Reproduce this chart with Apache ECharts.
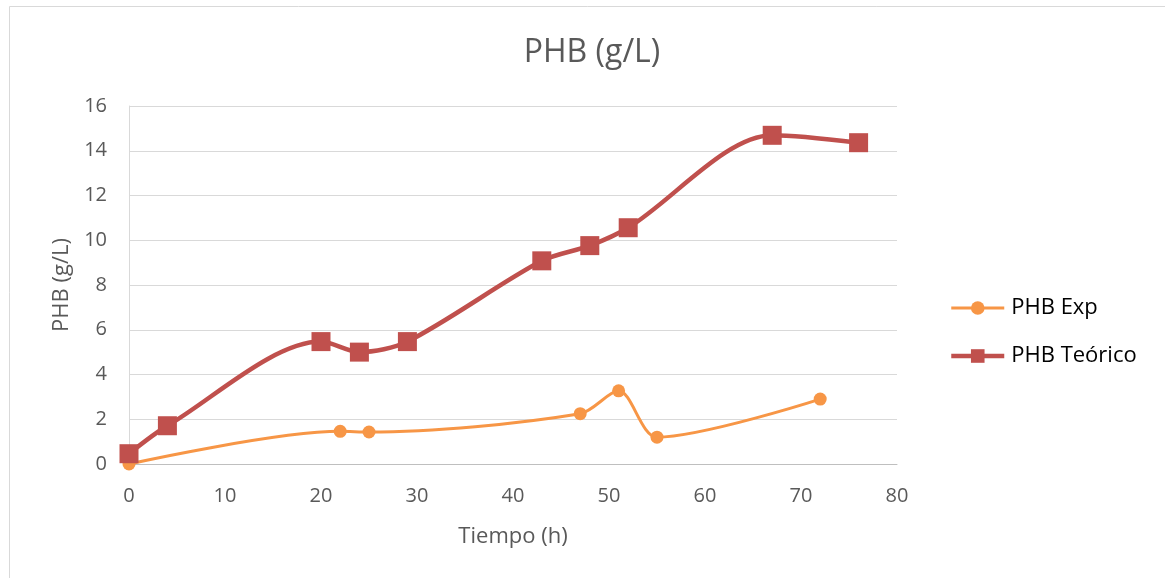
<!DOCTYPE html>
<html>
<head>
<meta charset="utf-8">
<script src="https://cdn.jsdelivr.net/npm/echarts@6/dist/echarts.min.js"></script>
<style>html,body{margin:0;padding:0;background:#fff}#chart{width:1165px;height:578px}</style>
</head>
<body>
<div id="chart"></div>
<script>
const expTime = [0, 22, 25, 47, 51, 55, 72];
const expPHB  = [0, 1.46, 1.43, 2.25, 3.27, 1.2, 2.9];
const teoTime = [0, 4, 20, 24, 29, 43, 48, 52, 67, 76];
const teoPHB  = [0.46, 1.71, 5.47, 5.0, 5.47, 9.08, 9.76, 10.56, 14.69, 14.36];
const xTicks = [0, 10, 20, 30, 40, 50, 60, 70, 80];
const yTicks = [0, 2, 4, 6, 8, 10, 12, 14, 16];

const FONT = '"Open Sans", Lato, sans-serif';
const chart = echarts.init(document.getElementById('chart'));
chart.setOption({
  backgroundColor: '#fff',
  animation: false,
  textStyle: { fontFamily: FONT },
  graphic: [{
    type: 'rect', silent: true, z: -1,
    shape: { x: 9.5, y: 6.5, width: 1170, height: 590 },
    style: { fill: 'none', stroke: '#D9D9D9', lineWidth: 1 }
  }],
  title: {
    text: 'PHB (g/L)', left: 587, top: 32, textAlign: 'center',
    textStyle: { fontFamily: FONT, fontSize: 32, fontWeight: 'normal', color: '#595959' }
  },
  legend: {
    orient: 'vertical', left: 944, top: 292, itemGap: 26,
    itemWidth: 53, itemHeight: 17,
    lineStyle: { width: 'inherit' },
    textStyle: { fontFamily: FONT, fontSize: 22, color: '#000', padding: [0, 0, 0, 2] },
    data: ['PHB Exp', 'PHB Teórico']
  },
  grid: { left: 129, right: 268, top: 106, bottom: 114, containLabel: false },
  xAxis: {
    type: 'value', min: xTicks[0], max: xTicks[xTicks.length - 1], interval: 10,
    name: 'Tiempo (h)', nameLocation: 'middle', nameGap: 62,
    nameTextStyle: { fontFamily: FONT, fontSize: 22, color: '#595959' },
    axisLine: { lineStyle: { color: '#BFBFBF', width: 1 } },
    axisTick: { show: false },
    axisLabel: { fontFamily: FONT, fontSize: 20, color: '#595959', margin: 22 },
    splitLine: { show: false }
  },
  yAxis: {
    type: 'value', min: yTicks[0], max: yTicks[yTicks.length - 1], interval: 2,
    name: 'PHB (g/L)', nameLocation: 'middle', nameGap: 56, nameRotate: 90,
    nameTextStyle: { fontFamily: FONT, fontSize: 22, color: '#595959' },
    axisLine: { show: true, lineStyle: { color: '#D9D9D9', width: 1 } },
    axisTick: { show: false },
    axisLabel: { fontFamily: FONT, fontSize: 20, color: '#595959', margin: 22 },
    splitLine: { show: true, lineStyle: { color: '#D9D9D9', width: 1 } }
  },
  series: [
    {
      name: 'PHB Exp', type: 'line',
      data: expTime.map((t, i) => [t, expPHB[i]]),
      smooth: 0.3,
      symbol: 'circle', symbolSize: 13,
      itemStyle: { color: '#F79646' },
      lineStyle: { color: '#F79646', width: 3 }, z: 2
    },
    {
      name: 'PHB Teórico', type: 'line',
      data: teoTime.map((t, i) => [t, teoPHB[i]]),
      smooth: 0.3,
      symbol: 'rect', symbolSize: 19,
      itemStyle: { color: '#C0504D' },
      lineStyle: { color: '#C0504D', width: 4.5 }, z: 3
    }
  ]
});
</script>
</body>
</html>
